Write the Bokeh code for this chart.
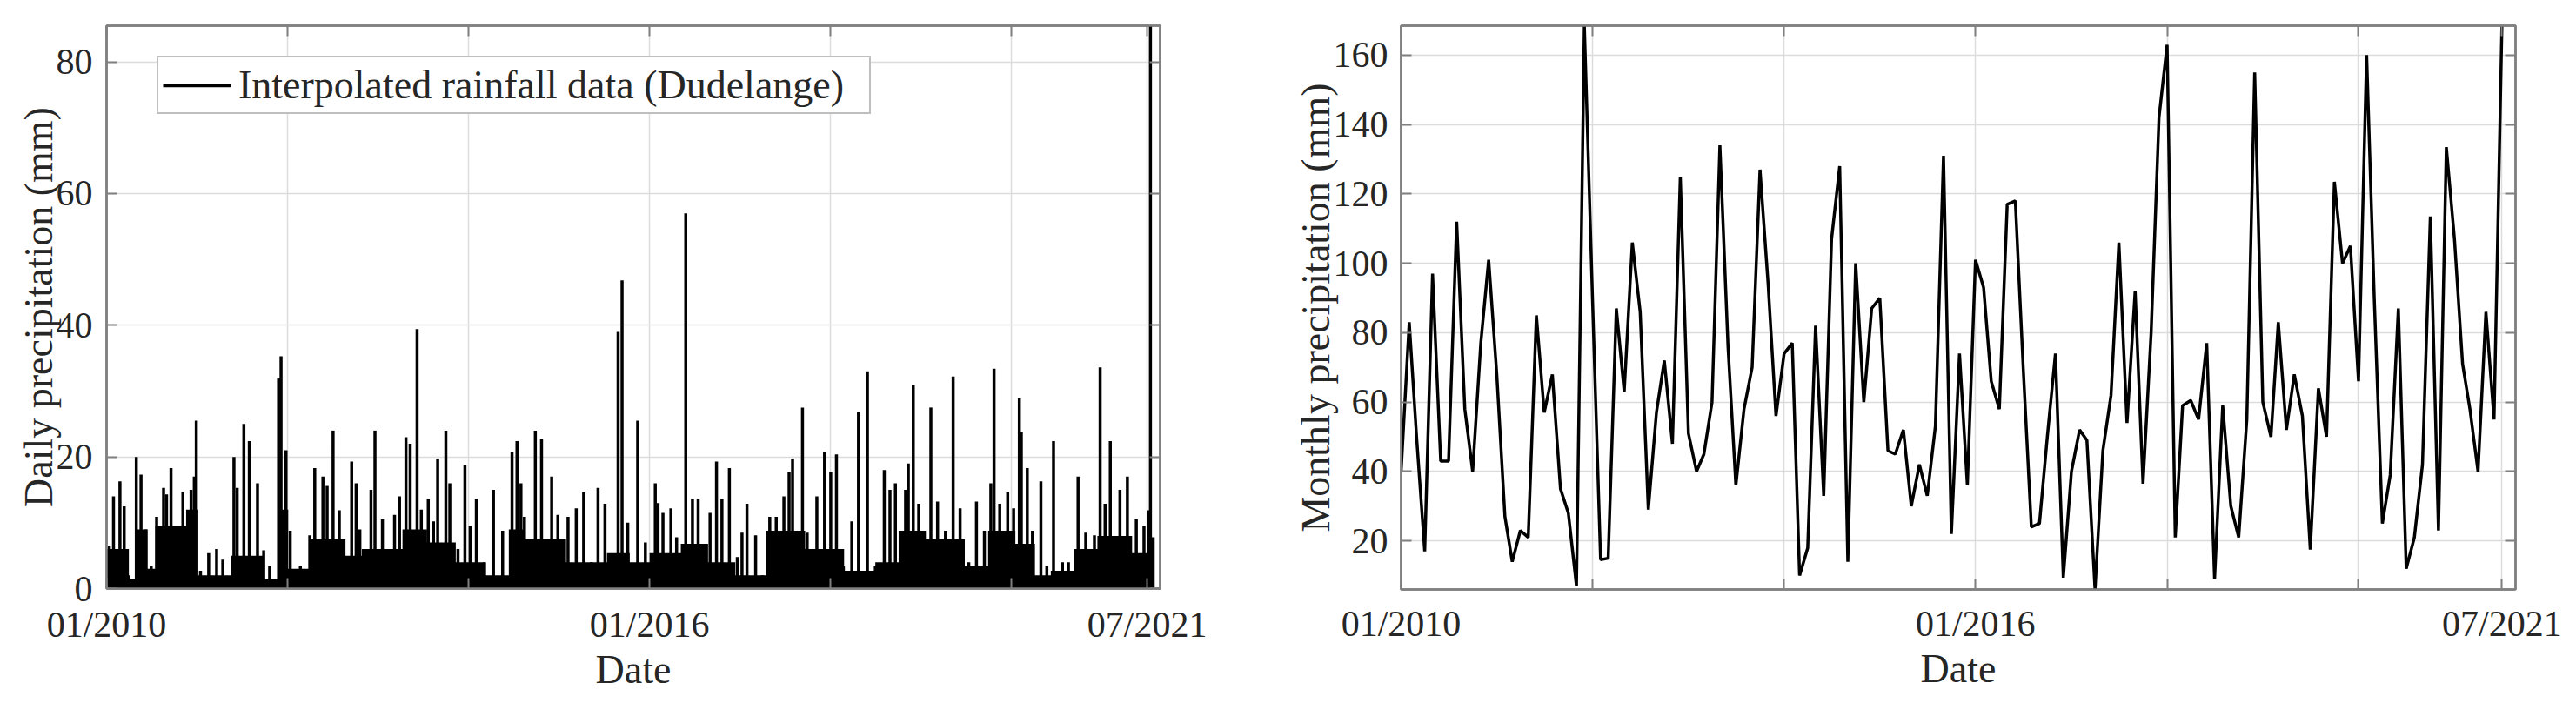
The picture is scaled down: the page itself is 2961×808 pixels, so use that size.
import pandas as pd
from bokeh.plotting import figure
from bokeh.layouts import row
from bokeh.models import (ColumnDataSource, FixedTicker, Range1d, LinearAxis,
                          DatetimeAxis, Legend, LegendItem)
from bokeh.embed import file_html
from bokeh.resources import INLINE

# ---------------- data ----------------
# daily rainfall: spikes (date, mm)
daily_dates = [
    "2010-01-01", "2010-01-12", "2010-01-29", "2010-02-24", "2010-03-13", "2010-04-01",
    "2010-05-01", "2010-05-20", "2010-06-09", "2010-06-30", "2010-07-22", "2010-08-19",
    "2010-08-31", "2010-09-18", "2010-10-03", "2010-11-05", "2010-11-28", "2010-12-08",
    "2010-12-21", "2010-12-29", "2011-01-15", "2011-02-17", "2011-03-21", "2011-04-15",
    "2011-05-30", "2011-06-12", "2011-07-09", "2011-07-31", "2011-09-02", "2011-09-27",
    "2011-10-21", "2011-11-15", "2011-11-26", "2011-12-06", "2011-12-26", "2012-01-12",
    "2012-02-22", "2012-03-31", "2012-04-20", "2012-05-23", "2012-06-09", "2012-07-03",
    "2012-07-28", "2012-09-16", "2012-10-04", "2012-10-19", "2012-11-21", "2012-12-03",
    "2012-12-19", "2013-01-18", "2013-02-12", "2013-03-08", "2013-03-28", "2013-04-23",
    "2013-05-10", "2013-06-07", "2013-06-24", "2013-07-22", "2013-08-12", "2013-08-29",
    "2013-10-01", "2013-10-17", "2013-11-19", "2013-12-17", "2014-01-07", "2014-02-01",
    "2014-03-06", "2014-04-11", "2014-05-18", "2014-06-25", "2014-07-15", "2014-07-31",
    "2014-08-14", "2014-09-27", "2014-10-22", "2014-12-02", "2014-12-27", "2015-02-06",
    "2015-03-11", "2015-04-10", "2015-05-11", "2015-06-07", "2015-07-05", "2015-08-27",
    "2015-09-12", "2015-10-05", "2015-11-14", "2015-12-15", "2016-01-24", "2016-02-04",
    "2016-02-24", "2016-03-27", "2016-04-19", "2016-05-26", "2016-06-22", "2016-07-15",
    "2016-08-08", "2016-09-01", "2016-09-27", "2016-10-19", "2016-11-18", "2016-12-20",
    "2017-01-08", "2017-01-28", "2017-03-04", "2017-04-01", "2017-04-30", "2017-05-26",
    "2017-06-26", "2017-07-17", "2017-07-31", "2017-08-20", "2017-09-09", "2017-09-28",
    "2017-11-06", "2017-12-07", "2018-01-01", "2018-01-24", "2018-02-21", "2018-03-27",
    "2018-04-23", "2018-05-29", "2018-06-30", "2018-08-05", "2018-08-28", "2018-09-19",
    "2018-10-30", "2018-11-10", "2018-11-30", "2018-12-22", "2019-02-09", "2019-03-08",
    "2019-04-09", "2019-05-10", "2019-06-07", "2019-07-12", "2019-08-12", "2019-09-13",
    "2019-10-09", "2019-10-22", "2019-11-14", "2019-12-16", "2020-01-09", "2020-02-01",
    "2020-02-09", "2020-03-04", "2020-03-25", "2020-04-04", "2020-04-28", "2020-05-22",
    "2020-06-18", "2020-07-24", "2020-08-17", "2020-09-25", "2020-10-26", "2020-11-30",
    "2020-12-23", "2021-01-12", "2021-02-02", "2021-03-13", "2021-04-12", "2021-05-18",
    "2021-06-18", "2021-07-07", "2021-07-14", "2021-07-25",
]
daily_mm = [
    2, 6.4, 14, 16.3, 12.5, 2, 20, 17.3, 9, 3.4, 10.9, 15.3,
    14.3, 18.3, 9, 14.6, 6.8, 15, 17, 25.5, 2.7, 5.4, 6, 4.4,
    20, 15.3, 25, 22.4, 16, 5.8, 3.4, 0.3, 31.9, 35.3, 21, 8.8,
    3.4, 8.1, 18.3, 17, 15.6, 24, 11.9, 19.3, 16, 9, 5.4, 15,
    24, 10.5, 6, 11.2, 14, 23, 22, 39.4, 12, 13.6, 10.2, 19.7,
    24, 16, 6, 18.7, 9.5, 13.6, 4, 15, 8.8, 20.7, 22.4, 16,
    10.9, 24, 22.7, 17, 11.2, 10.9, 12.2, 14.6, 4, 15.3, 12.9, 39,
    46.8, 10, 25.5, 7, 16, 13, 11.5, 12.2, 7.8, 57, 13.6, 13.6,
    4.4, 11.5, 19.3, 13.6, 18.3, 4.8, 8.5, 12.9, 8.1, 2, 10.9, 10.9,
    14, 17.7, 19.7, 7.5, 27.5, 8.5, 14, 20.7, 17.7, 20.4, 3.4, 10.2,
    26.8, 33, 3.4, 18, 15, 16, 15, 19, 30.9, 12.9, 27.5, 13.2,
    8.8, 32.2, 12.2, 4, 13.2, 8.8, 16, 33.4, 12.9, 14.6, 12.2, 28.9,
    23.8, 18.3, 8.8, 0.5, 16.3, 3.4, 22.4, 4, 4, 17, 8.5, 8.1,
    33.6, 12.9, 22.4, 15, 17, 10.5, 9.5, 11.9, 85.5, 7.8,
]
# daily rainfall: height of the dense (solid) black band, read period by period
band_dates = [
    "2010-01-01", "2010-04-01", "2010-04-25", "2010-06-15", "2010-07-17", "2010-11-18",
    "2011-01-06", "2011-05-18", "2011-09-27", "2011-11-23", "2012-01-04", "2012-03-27",
    "2012-08-22", "2012-10-27", "2013-04-09", "2013-07-17", "2013-11-10", "2014-03-06",
    "2014-06-12", "2014-08-17", "2015-01-29", "2015-07-13", "2015-10-13", "2016-01-01",
    "2016-05-06", "2016-08-24", "2016-12-12", "2017-04-16", "2017-09-20", "2018-02-24",
    "2018-06-30", "2018-10-02", "2019-01-20", "2019-06-26", "2019-09-28", "2020-01-16",
    "2020-04-04", "2020-06-07", "2020-09-08", "2020-12-12", "2021-05-01", "2021-07-27",
]
band_mm = [
    6, 1.5, 9, 3, 9.5, 12, 2, 5, 1.4, 12, 3, 7.5,
    5, 6, 9, 7, 4, 2, 9, 7.5, 4, 5.4, 4, 5.4,
    6.8, 4, 2, 8.8, 6, 2.7, 4, 8.8, 7.5, 3.4, 8.8, 6.8,
    2, 2.7, 6, 8, 5.4, 5.4,
]

monthly_mm = [
    40, 83, 50, 17, 97, 43, 43, 112, 58, 40, 77, 101,
    68, 27, 14, 23, 21, 85, 57, 68, 35, 28, 7, 168.5,
    90, 14.6, 15, 87, 63, 106, 86, 29, 57, 72, 48, 125,
    51, 40, 45, 60, 134, 76, 36, 58, 70, 127, 94, 56,
    74, 77, 10, 18, 82, 33, 107, 128, 14, 100, 60, 87,
    90, 46, 45, 52, 30, 42, 33, 53, 131, 22, 74, 36,
    101, 93, 66, 58, 117, 118, 70, 24, 25, 50, 74, 9.4,
    40, 52, 49, 6, 46, 62, 106, 54, 92, 36.5, 80, 142,
    163, 21, 59, 60.5, 55, 77, 9, 59, 30, 21, 55, 155,
    60, 50, 83, 52, 68, 56, 17.5, 64, 50, 123.5, 100, 105,
    66, 160, 90, 25, 39, 87, 12, 21, 42, 113.5, 23, 133.5,
    107, 71, 58, 40, 86, 55, 168.5,
]
monthly_dates = pd.date_range("2010-01-01", periods=len(monthly_mm), freq="MS")

tick_dates = ["2010-01-01", "2012-01-01", "2014-01-01", "2016-01-01",
              "2018-01-01", "2020-01-01", "2021-07-01"]
tick_labels = ["01/2010", "", "", "01/2016", "", "", "07/2021"]
x_start, x_end = "2010-01-01", "2021-08-22"

legend_label = "Interpolated rainfall data (Dudelange)"

# ---------------- styling ----------------
FONT = "Liberation Serif"
TXT = "#262626"
BOX = "#808080"
GRID = "#dcdcdc"


def ms(d):
    return pd.Timestamp(d).value / 1e6


def mirror_axis(cls, ticker):
    return cls(ticker=ticker, major_tick_in=12, major_tick_out=0,
               major_label_text_font_size="1px", major_label_text_color=None,
               major_label_standoff=0, minor_tick_line_color=None, axis_line_color=BOX,
               axis_line_width=2.5, major_tick_line_color=BOX, major_tick_line_width=2)


def style(p, xticks, xlabels, yticks, ylabel, xstand, ystand, lab_x_stand, lab_y_stand):
    xt = FixedTicker(ticks=[ms(t) for t in xticks])
    yt = FixedTicker(ticks=yticks)
    p.xaxis.ticker = xt
    p.yaxis.ticker = yt
    p.xaxis.major_label_overrides = {ms(t): l for t, l in zip(xticks, xlabels)}
    p.xaxis.axis_label = "Date"
    p.yaxis.axis_label = ylabel
    for ax, st, lst in ((p.xaxis, xstand, lab_x_stand), (p.yaxis, ystand, lab_y_stand)):
        ax.major_label_text_font = FONT
        ax.major_label_text_font_size = "42px"
        ax.major_label_text_color = TXT
        ax.axis_label_text_font = FONT
        ax.axis_label_text_font_size = "46px"
        ax.axis_label_text_font_style = "normal"
        ax.axis_label_text_color = TXT
        ax.major_tick_in = 12
        ax.major_tick_out = 0
        ax.minor_tick_line_color = None
        ax.major_tick_line_color = BOX
        ax.major_tick_line_width = 2
        ax.axis_line_color = BOX
        ax.axis_line_width = 2.5
        ax.major_label_standoff = st
        ax.axis_label_standoff = lst
    p.yaxis.major_label_orientation = "horizontal"
    p.add_layout(mirror_axis(LinearAxis, yt), "right")
    p.add_layout(mirror_axis(DatetimeAxis, xt), "above")
    p.xgrid.grid_line_color = GRID
    p.ygrid.grid_line_color = GRID
    p.xgrid.grid_line_width = 1.5
    p.ygrid.grid_line_width = 1.5
    p.outline_line_color = BOX
    p.outline_line_width = 2.5
    p.background_fill_color = "white"
    p.border_fill_color = "white"


# ---------------- left: daily ----------------
dsrc = ColumnDataSource(dict(x=pd.to_datetime(daily_dates), y=daily_mm, y0=[0] * len(daily_mm)))
bsrc = ColumnDataSource(dict(x=pd.to_datetime(band_dates), y=band_mm, y0=[0] * len(band_mm)))
p1 = figure(x_axis_type="datetime", output_backend="svg", toolbar_location=None,
            frame_width=1211, frame_height=647,
            min_border_left=122, min_border_right=107, min_border_top=29, min_border_bottom=120,
            x_range=Range1d(ms(x_start), ms(x_end)), y_range=Range1d(0, max(daily_mm)))
style(p1, tick_dates, tick_labels, [0, 20, 40, 60, 80], "Daily precipitation (mm)", 18, 16, 0, -8)
p1.varea_step(x="x", y1="y0", y2="y", source=bsrc, step_mode="after", fill_color="black")
seg = p1.segment(x0="x", y0="y0", x1="x", y1="y", source=dsrc, line_color="black", line_width=3.5)
leg = Legend(items=[LegendItem(label=legend_label, renderers=[seg])],
             location=(58, 545), label_text_font=FONT, label_text_font_size="46px",
             label_text_color=TXT, glyph_width=79, glyph_height=30, label_standoff=8,
             label_width=720, padding=5, spacing=0, margin=0, border_line_color=BOX,
             border_line_width=2, background_fill_alpha=1)
p1.add_layout(leg, "center")

# ---------------- right: monthly ----------------
msrc = ColumnDataSource(dict(x=monthly_dates, y=monthly_mm))
p2 = figure(x_axis_type="datetime", output_backend="svg", toolbar_location=None,
            frame_width=1281, frame_height=648,
            min_border_left=170, min_border_right=54, min_border_top=15, min_border_bottom=133,
            x_range=Range1d(ms(x_start), ms(x_end)),
            y_range=Range1d(min(monthly_mm), max(monthly_mm)))
m_ticks = tick_dates[:-1] + [str(monthly_dates[-1].date())]
style(p2, m_ticks, tick_labels, [20, 40, 60, 80, 100, 120, 140, 160],
      "Monthly precipitation (mm)", 16, 15, 0, -8)
p2.line(x="x", y="y", source=msrc, line_color="black", line_width=3.5)

layout = row(p1, p2)
open("out.html", "w").write(file_html(layout, INLINE))
